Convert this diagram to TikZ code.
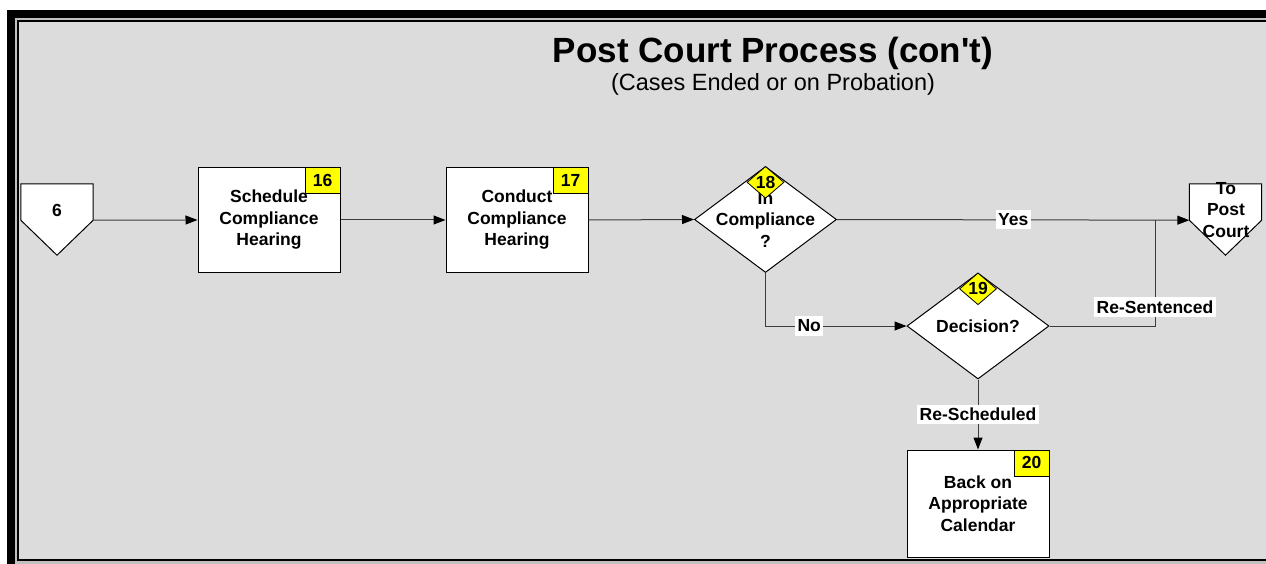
\documentclass[tikz,border=0pt]{standalone}
\usepackage{fontspec}
\setmainfont{Liberation Sans}
\newfontfamily\headfont{Liberation Sans}[Ligatures=TeXOff]
\usetikzlibrary{arrows.meta,shapes.geometric,calc}

\definecolor{panel}{HTML}{DCDCDC}
\definecolor{rim}{HTML}{C0C0C0}
\definecolor{tagyellow}{HTML}{FFFF00}
\definecolor{wire}{HTML}{3C3C3C}

\tikzset{
  txt/.style={align=center, font=\fontsize{17.5}{21.5}\selectfont\bfseries, inner sep=0pt},
  stepbox/.style={draw=black, fill=white, line width=1pt, minimum width=142pt,
    minimum height=105pt, inner sep=0pt, txt},
  decide/.style={diamond, draw=black, fill=white, line width=1pt, minimum width=142pt,
    minimum height=106pt, inner sep=0pt},
  tagbox/.style={draw=black, fill=tagyellow, line width=0.8pt, minimum width=35pt,
    minimum height=26pt, inner sep=0pt, txt},
  tagdia/.style={diamond, draw=black, fill=tagyellow, line width=0.8pt, minimum width=37pt,
    minimum height=29pt, inner sep=0pt, txt},
  pagelink/.style={draw=none, minimum width=72pt, minimum height=36pt, inner sep=0pt},
  linkshape/.style={draw=black, fill=white, line width=1pt},
  flow/.style={draw=wire, line width=1pt, -{Triangle[length=12pt,width=9pt,color=black]}},
  plain/.style={draw=wire, line width=1pt},
  lbl/.style={fill=white, txt, inner xsep=2.5pt, inner ysep=3.5pt}
}

\begin{document}
\begin{tikzpicture}[x=1pt,y=-1pt]
\useasboundingbox (0,0) rectangle (1266,564);

% page frame
\begin{scope}
  \clip (0,0) rectangle (1266,564);
  \fill[white] (0,0) rectangle (1266,564);
  \fill[black] (7,10) rectangle (1290,590);
  \fill[rim] (15,18) rectangle (1290,590);
  \fill[black] (17,20) rectangle (1290,561);
  \fill[panel] (19,22) rectangle (1290,559);
\end{scope}

% headings
\node[anchor=base, font=\headfont\fontsize{35}{40}\selectfont\bfseries, inner sep=0pt] (title) at (773,63) {Post Court Process (con't)};
\node[anchor=base, font=\fontsize{23.5}{28}\selectfont, inner sep=0pt] (subtitle) at (773,91) {(Cases Ended or on Probation)};

% off-page connector 6
\node[pagelink] (c6) at (57,202) {};
\draw[linkshape] (c6.north west) -- (c6.north east) -- (c6.south east)
  -- ($(c6.south)+(0,35)$) -- (c6.south west) -- cycle;
\node[txt] (c6t) at (57,210) {6};

% off-page connector to post court
\node[pagelink] (cP) at (1225.5,202) {};
\draw[linkshape] (cP.north west) -- (cP.north east) -- (cP.south east)
  -- ($(cP.south)+(0,35)$) -- (cP.south west) -- cycle;
\node[txt] (cPt) at (1226,210) {To\\Post\\Court};

% process steps
\node[stepbox] (b16) at (269,220) {Schedule\\Compliance\\Hearing};
\node[tagbox, anchor=north east] (t16) at (b16.north east) {16};

\node[stepbox] (b17) at (517,220) {Conduct\\Compliance\\Hearing};
\node[tagbox, anchor=north east] (t17) at (b17.north east) {17};

\node[decide] (d18) at (765.5,219.5) {};
\node[txt] (l18) at (d18) {In\\Compliance\\?};
\node[tagdia, anchor=north] (t18) at (d18.north) {18};

\node[decide] (d19) at (978,326) {};
\node[txt] (l19) at (d19) {Decision?};
\node[tagdia, anchor=north] (t19) at (d19.north) {19};

\node[stepbox, minimum height=107pt] (b20) at (978,503.5) {Back on\\Appropriate\\Calendar};
\node[tagbox, anchor=north east] (t20) at (b20.north east) {20};

% connectors
\coordinate (join) at (1155,220);
\draw[flow] (c6.south east) -- (b16.west);
\draw[flow] (b16.east) -- (b17.west);
\draw[flow] (b17.east) -- (d18.west);
\draw[flow] (d18.east) -- node[lbl, pos=0.5] {Yes} (cP.south west);
\draw[flow] (d18.south) |- node[lbl, pos=0.655] {No} (d19.west);
\draw[plain] (d19.east) -| node[lbl, pos=0.59] {Re-Sentenced} (join);
\draw[flow] (d19.south) -- node[lbl, pos=0.5] {Re-Scheduled} (b20.north);

\end{tikzpicture}
\end{document}
